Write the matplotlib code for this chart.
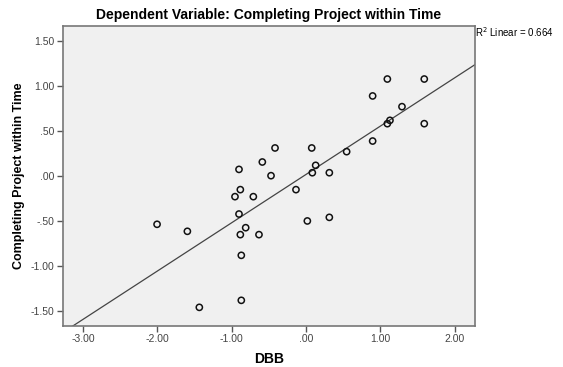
import matplotlib
matplotlib.use("Agg")
import matplotlib.pyplot as plt
import numpy as np

plt.rcParams['font.family'] = ['Liberation Sans', 'DejaVu Sans']

# DBB scores (x) and Completing Project within Time (y)
dbb = [-2.005, -1.597, -1.436, -0.902, -0.884, -0.956, -0.902, -0.812,
       -0.884, -0.871, -0.871, -0.709, -0.633, -0.588, -0.471, -0.417,
       -0.135, 0.018, 0.077, 0.130, 0.085, 0.314, 0.314, 0.547,
       0.897, 0.897, 1.095, 1.095, 1.130, 1.292, 1.592, 1.592]
completing = [-0.540, -0.618, -1.463, 0.070, -0.155, -0.233, -0.426, -0.578,
              -0.655, -0.885, -1.385, -0.233, -0.655, 0.152, 0.000, 0.308,
              -0.155, -0.503, 0.308, 0.115, 0.033, 0.033, -0.463, 0.267,
              0.886, 0.385, 1.074, 0.578, 0.615, 0.767, 1.074, 0.578]
r2_text = 'R$^2$ Linear = 0.664'

xticks = [-3, -2, -1, 0, 1, 2]
xticklabels = ['-3.00', '-2.00', '-1.00', '.00', '1.00', '2.00']
yticks = [-1.5, -1.0, -0.5, 0.0, 0.5, 1.0, 1.5]
yticklabels = ['-1.50', '-1.00', '-.50', '.00', '.50', '1.00', '1.50']

x = np.array(dbb)
y = np.array(completing)
slope, intercept = np.polyfit(x, y, 1)

fig = plt.figure(figsize=(5.63, 3.67), dpi=100)
ax = fig.add_axes([0.1114, 0.1125, 0.7323, 0.8166])
ax.set_facecolor('#f0f0f0')

xlim = (-3.275, 2.275)
ax.set_xlim(xlim)
ax.set_ylim(-1.667, 1.663)

xs = np.array(xlim)
ax.plot(xs, slope * xs + intercept, color='#444444', linewidth=0.9, zorder=2)
ax.scatter(x, y, s=20, facecolors='none', edgecolors='#111111',
           linewidths=1.1, zorder=3)

ax.set_xticks(xticks)
ax.set_xticklabels(xticklabels)
ax.set_yticks(yticks)
ax.set_yticklabels(yticklabels)
ax.tick_params(direction='out', length=4, width=1, colors='#555555',
               labelsize=7.5, labelcolor='#444444', pad=2)
for s in ax.spines.values():
    s.set_color('#777777')
    s.set_linewidth(1.2)

ax.set_title('Dependent Variable: Completing Project within Time',
             fontsize=10, fontweight='bold', pad=5)
ax.set_xlabel('DBB', fontsize=10, fontweight='bold', labelpad=6)
ax.set_ylabel('Completing Project within Time', fontsize=9,
              fontweight='bold', labelpad=4)

ax.text(1.0, 0.98, r2_text, transform=ax.transAxes, fontsize=7,
        ha='left', va='center')

fig.savefig('out.png', dpi=100)
